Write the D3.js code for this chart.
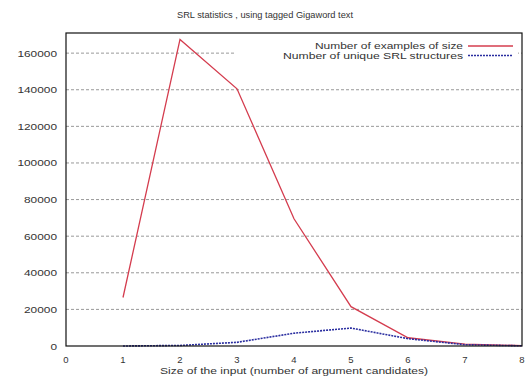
<!DOCTYPE html>
<html>
<head>
<meta charset="utf-8">
<script src="https://cdn.jsdelivr.net/npm/d3@7"></script>
<style>
  body { margin: 0; background: #fff; }
  text { font-family: "Liberation Sans", Arial, sans-serif; fill: #333; }
</style>
</head>
<body>
<script>
// data
const sizes = [1, 2, 3, 4, 5, 6, 7, 8];
const examples = [26500, 167500, 140500, 69500, 21500, 4500, 1000, 200];
const unique = [0, 300, 2000, 7000, 9800, 4000, 700, 100];
const yTicks = [0, 20000, 40000, 60000, 80000, 100000, 120000, 140000, 160000];
const xTicks = [0, 1, 2, 3, 4, 5, 6, 7, 8];
const seriesNames = ["Number of examples of size", "Number of unique SRL structures"];

const W = 529, H = 383;
const marge = { top: 33, right: 7, bottom: 37, left: 66 };

let svg = d3.select("body").append("svg")
  .attr("width", W)
  .attr("height", H);

let x = d3.scaleLinear().domain([0, 8]).range([marge.left, W - marge.right]);
let y = d3.scaleLinear().domain([0, 171000]).range([H - marge.bottom, marge.top]);

// the scan is stretched sideways, so text gets a fixed width
function stretch(sel, w) {
  sel.attr("textLength", w).attr("lengthAdjust", "spacingAndGlyphs");
}

// title
svg.append("text")
  .attr("x", 265).attr("y", 18)
  .attr("text-anchor", "middle")
  .attr("font-size", 9)
  .text("SRL statistics , using tagged Gigaword text")
  .call(stretch, 176);

// grid lines
svg.append("g")
  .selectAll("line")
  .data(yTicks.filter(d => d > 0))
  .enter().append("line")
  .attr("x1", x(0)).attr("x2", x(8))
  .attr("y1", d => y(d)).attr("y2", d => y(d))
  .attr("stroke", "#999")
  .attr("stroke-width", 1)
  .attr("stroke-dasharray", "3,2");

// legend background hides the grid underneath
svg.append("rect")
  .attr("x", 236).attr("y", 39)
  .attr("width", 282).attr("height", 24)
  .attr("fill", "#fff");

// y tick labels
svg.append("g")
  .selectAll("text")
  .data(yTicks)
  .enter().append("text")
  .attr("x", 57)
  .attr("y", d => y(d) + 3.5)
  .attr("text-anchor", "end")
  .attr("font-size", 9.5)
  .attr("textLength", d => String(d).length * 6.6)
  .attr("lengthAdjust", "spacingAndGlyphs")
  .text(d => d);

// x tick labels
svg.append("g")
  .selectAll("text")
  .data(xTicks)
  .enter().append("text")
  .attr("x", d => x(d))
  .attr("y", 363)
  .attr("text-anchor", "middle")
  .attr("font-size", 9.5)
  .text(d => d);

svg.append("text")
  .attr("x", 294).attr("y", 374)
  .attr("text-anchor", "middle")
  .attr("font-size", 9.5)
  .text("Size of the input (number of argument candidates)")
  .call(stretch, 268);

let line = d3.line()
  .x((d, i) => x(sizes[i]))
  .y(d => y(d));

svg.append("path")
  .attr("d", line(examples))
  .attr("fill", "none")
  .attr("stroke", "#d43c4e")
  .attr("stroke-width", 1.3);

svg.append("path")
  .attr("d", line(unique))
  .attr("fill", "none")
  .attr("stroke", "#2a2ea0")
  .attr("stroke-width", 1.6)
  .attr("stroke-dasharray", "2,1");

// frame
svg.append("rect")
  .attr("x", x(0)).attr("y", y(171000))
  .attr("width", x(8) - x(0))
  .attr("height", y(0) - y(171000))
  .attr("fill", "none")
  .attr("stroke", "#111")
  .attr("stroke-width", 1.2);

// legend
let legend = svg.append("g")
  .selectAll("g")
  .data(seriesNames)
  .enter().append("g")
  .attr("transform", (d, i) => `translate(0,${46 + i * 9.5})`);

legend.append("text")
  .attr("x", 463).attr("y", 3)
  .attr("text-anchor", "end")
  .attr("font-size", 9.5)
  .attr("textLength", (d, i) => i == 0 ? 148 : 180)
  .attr("lengthAdjust", "spacingAndGlyphs")
  .text(d => d);

legend.append("line")
  .attr("x1", 468).attr("x2", 513)
  .attr("y1", 0).attr("y2", 0)
  .attr("stroke", (d, i) => i == 0 ? "#d43c4e" : "#2a2ea0")
  .attr("stroke-width", (d, i) => i == 0 ? 1.3 : 1.6)
  .attr("stroke-dasharray", (d, i) => i == 0 ? null : "2,1");
</script>
</body>
</html>
